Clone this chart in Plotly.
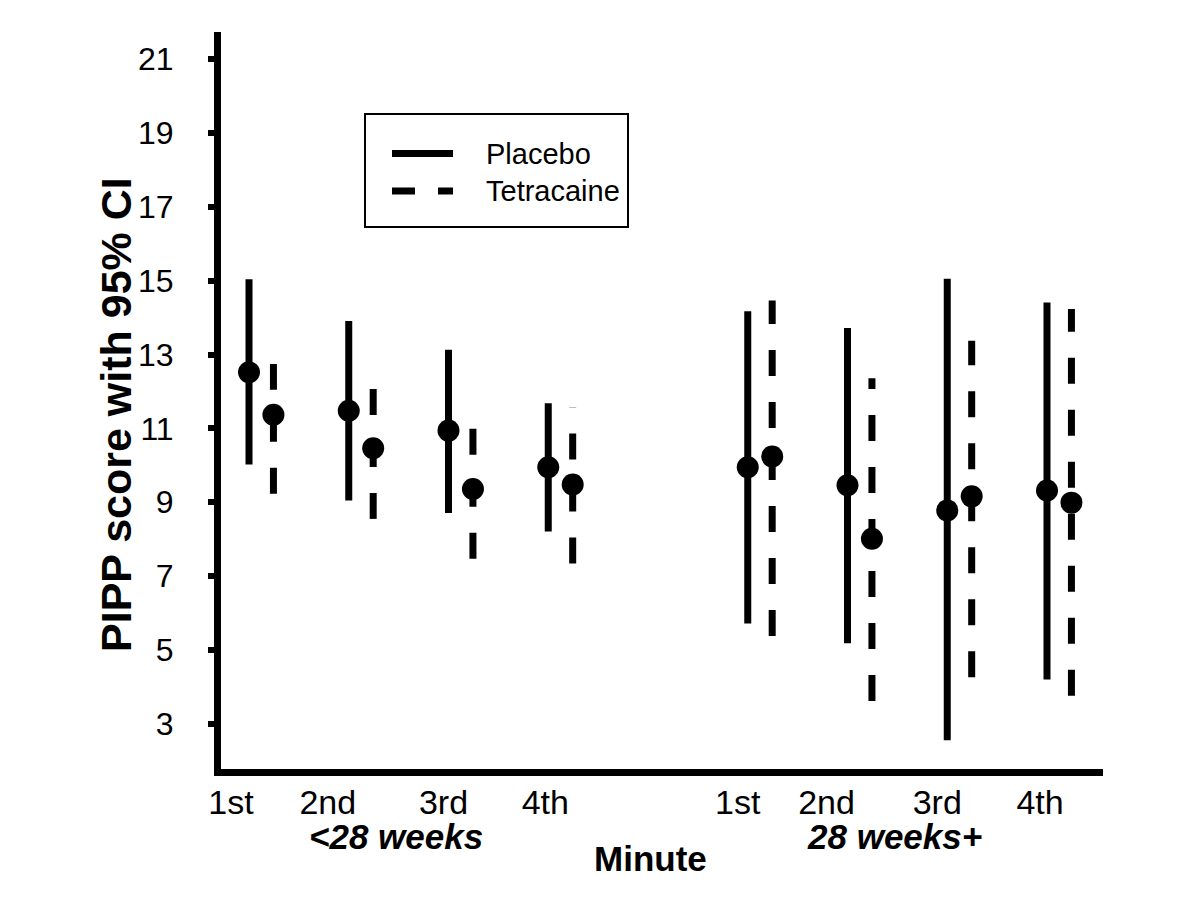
import plotly.graph_objects as go

# ---------------- data ----------------
minutes = ["1st", "2nd", "3rd", "4th"]
groups = ["<28 weeks", "28 weeks+"]

placebo_mean = [12.52, 11.48, 10.94, 9.95, 9.95, 9.46, 8.78, 9.32]
placebo_lo = [10.02, 9.05, 8.71, 8.21, 5.72, 5.18, 2.56, 4.20]
placebo_hi = [15.04, 13.91, 13.13, 11.68, 14.17, 13.72, 15.05, 14.41]

tetra_mean = [11.37, 10.46, 9.36, 9.48, 10.24, 8.01, 9.16, 8.99]
tetra_lo = [9.23, 8.55, 7.47, 7.34, 5.38, 3.62, 4.26, 3.76]
tetra_hi = [12.74, 12.07, 10.99, 11.57, 14.46, 12.36, 13.37, 14.23]

y_ticks = [3, 5, 7, 9, 11, 13, 15, 17, 19, 21]

# ---------------- geometry / style ----------------
W, H = 1200, 900
OFF = 8                      # page body margin of the browser
ML, MR, MT, MB = 221 - OFF, 97 + OFF, 32 - OFF, 131 + OFF
PW, PH = W - ML - MR, H - MT - MB
FONT = "Liberation Sans, Arial, sans-serif"
PX_PER_SLOT = 99.75
label_nudge_px = [-18, -21, -5, -3, -10, -21, -10, -7]

slots = [g * 5 + m for g in range(len(groups)) for m in range(len(minutes))]
x_placebo = [s for s in slots]
x_tetra = [s + 0.245 for s in slots]


def px_x(p):
    return (p - OFF - ML) / PW


def px_y(p):
    return (H - MB - (p - OFF)) / PH


fig = go.Figure()

# confidence-interval lines (drawn bottom to top)
for i in range(len(slots)):
    fig.add_trace(go.Scatter(
        x=[x_placebo[i], x_placebo[i]], y=[placebo_lo[i], placebo_hi[i]],
        mode="lines", line=dict(color="black", width=7),
        showlegend=False, hoverinfo="skip"))
    fig.add_trace(go.Scatter(
        x=[x_tetra[i], x_tetra[i]], y=[tetra_lo[i], tetra_hi[i]],
        mode="lines", line=dict(color="black", width=7, dash="26px,26px"),
        showlegend=False, hoverinfo="skip"))

# means
fig.add_trace(go.Scatter(x=x_placebo, y=placebo_mean, mode="markers", name="Placebo",
                         marker=dict(color="black", size=22, symbol="circle"),
                         showlegend=False))
fig.add_trace(go.Scatter(x=x_tetra, y=tetra_mean, mode="markers", name="Tetracaine",
                         marker=dict(color="black", size=22, symbol="circle"),
                         showlegend=False))

# ---------------- axes ----------------
fig.update_xaxes(
    range=[-0.2807, 8.5614],
    tickmode="array",
    tickvals=[s + n / PX_PER_SLOT for s, n in zip(slots, label_nudge_px)],
    ticktext=minutes * len(groups),
    ticks="",
    showline=True, linewidth=7, linecolor="black",
    showgrid=False, zeroline=False,
    tickfont=dict(family=FONT, size=34, color="black"),
    ticklabelstandoff=-3,
)
fig.update_yaxes(
    range=[1.779, 21.731],
    tickmode="array", tickvals=y_ticks,
    ticks="outside", ticklen=6, tickwidth=6, tickcolor="black",
    showline=True, linewidth=7, linecolor="black",
    showgrid=False, zeroline=False,
    tickfont=dict(family=FONT, size=32, color="black"),
    ticklabelstandoff=28,
)

annotations = []
# axis titles
annotations.append(dict(
    x=px_x(650), xref="paper", y=px_y(858), yref="paper",
    text="<b>Minute</b>", showarrow=False, xanchor="center", yanchor="middle",
    font=dict(family=FONT, size=35, color="black")))
annotations.append(dict(
    x=px_x(116), xref="paper", y=px_y(415), yref="paper",
    text="<b>PIPP score with 95% CI</b>", showarrow=False, textangle=-90,
    xanchor="center", yanchor="middle",
    font=dict(family=FONT, size=43, color="black")))

# group labels
for g, name in enumerate(groups):
    centre = (x_placebo[g * 4] + x_tetra[g * 4 + 3]) / 2 - 0.15
    annotations.append(dict(
        x=centre, xref="x", y=0, yref="paper", yshift=-67,
        text=f"<b><i>{name}</i></b>", showarrow=False,
        font=dict(family=FONT, size=35, color="black"),
        xanchor="center", yanchor="middle"))

# legend (manual, to match the long line samples)
shapes = [
    dict(type="rect", xref="paper", yref="paper",
         x0=px_x(365), x1=px_x(628), y0=px_y(227), y1=px_y(114),
         line=dict(color="black", width=2), fillcolor="white", layer="below"),
    dict(type="line", xref="paper", yref="paper",
         x0=px_x(392), x1=px_x(453), y0=px_y(153.5), y1=px_y(153.5),
         line=dict(color="black", width=7)),
    dict(type="line", xref="paper", yref="paper",
         x0=px_x(392), x1=px_x(453), y0=px_y(191), y1=px_y(191),
         line=dict(color="black", width=7, dash="23px,23px")),
]
for label, yy in (("Placebo", 153.5), ("Tetracaine", 191)):
    annotations.append(dict(
        x=px_x(484), xref="paper", y=px_y(yy), yref="paper",
        text=label, showarrow=False, xanchor="left", yanchor="middle",
        font=dict(family=FONT, size=29, color="black")))

fig.update_layout(
    width=W, height=H,
    margin=dict(l=ML, r=MR, t=MT, b=MB, pad=0),
    paper_bgcolor="white", plot_bgcolor="white",
    font=dict(family=FONT, color="black"),
    shapes=shapes, annotations=annotations,
    showlegend=False,
)

fig.write_html("out.html")
